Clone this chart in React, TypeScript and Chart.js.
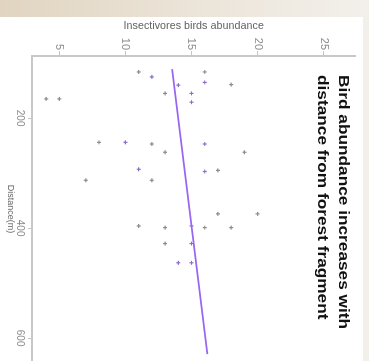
import React, { useEffect, useRef } from "react";
import { Chart, registerables } from "chart.js";

Chart.register(...registerables);

// ---- Text ----
const TITLE_LINES = ["Bird abundance increases with", "distance from forest fragment"];
const X_LABEL = "Distance(m)";
const Y_LABEL = "Insectivores birds abundance";

// ---- Axes ----
const X_TICKS = [200, 400, 600];
const Y_TICKS = [5, 10, 15, 20, 25];
const X_MIN = 87;
const X_MAX = 643;
const Y_MIN = 2.93;
const Y_MAX = 27.4;

// ---- Data (distance in m, abundance) ----
const GRAY_DISTANCE = [165, 165, 116, 116, 139, 155, 244, 247, 262, 262, 295, 313, 313, 374, 374, 396, 399, 399, 399, 428];
const GRAY_ABUNDANCE = [4, 5, 11, 16, 18, 13, 8, 12, 13, 19, 17, 7, 12, 17, 20, 11, 13, 16, 18, 13];

const PURPLE_DISTANCE = [125, 135, 140, 155, 171, 244, 247, 293, 297, 396, 428, 463, 463];
const PURPLE_ABUNDANCE = [12, 16, 14, 15, 15, 10, 16, 11, 16, 15, 15, 14, 15];

const FIT_DISTANCE = [111, 629];
const FIT_ABUNDANCE = [13.53, 16.2];

const toPoints = (xs: number[], ys: number[]) => xs.map((x, i) => ({ x, y: ys[i] }));

const FONT = '"Liberation Sans", Arial, Helvetica, sans-serif';

const titlePlugin = {
  id: "slideTitle",
  afterDraw(chart: any) {
    const ctx = chart.ctx as CanvasRenderingContext2D;
    ctx.save();
    ctx.fillStyle = "#111";
    ctx.font = `bold 14.5px ${FONT}`;
    ctx.textAlign = "left";
    ctx.textBaseline = "alphabetic";
    ctx.translate(58, 0);
    ctx.scale(1.19, 1);
    TITLE_LINES.forEach((t, i) => ctx.fillText(t, 0, 24 + i * 21));
    ctx.restore();
  },
};

export default function App() {
  const ref = useRef<HTMLCanvasElement | null>(null);

  useEffect(() => {
    if (!ref.current) return;
    Chart.defaults.font.family = FONT;
    const chart = new Chart(ref.current, {
      type: "scatter",
      data: {
        datasets: [
          {
            label: "fit",
            data: toPoints(FIT_DISTANCE, FIT_ABUNDANCE),
            showLine: true,
            borderColor: "#9a66f0",
            borderWidth: 1.9,
            pointRadius: 0,
            order: 0,
          } as any,
          {
            label: "gray",
            data: toPoints(GRAY_DISTANCE, GRAY_ABUNDANCE),
            pointStyle: "cross",
            pointRadius: 2,
            pointBorderWidth: 1.2,
            borderColor: "#8c8c8c",
            backgroundColor: "#8c8c8c",
            order: 1,
          },
          {
            label: "purple",
            data: toPoints(PURPLE_DISTANCE, PURPLE_ABUNDANCE),
            pointStyle: "cross",
            pointRadius: 2,
            pointBorderWidth: 1.2,
            borderColor: "#8a6ccc",
            backgroundColor: "#8a6ccc",
            order: 1,
          },
        ],
      },
      options: {
        responsive: false,
        animation: false,
        devicePixelRatio: 1,
        layout: { padding: { top: 3, left: 0, right: 0, bottom: 0 } },
        plugins: { legend: { display: false }, tooltip: { enabled: false } },
        scales: {
          x: {
            type: "linear",
            min: X_MIN,
            max: X_MAX,
            afterBuildTicks: (s: any) => {
              s.ticks = X_TICKS.map((v) => ({ value: v }));
            },
            afterFit: (s: any) => {
              s.height = 32;
            },
            ticks: { color: "#8a8a8a", font: { size: 10 }, padding: 2, maxRotation: 0 },
            grid: { display: true, drawOnChartArea: false, drawTicks: true, tickLength: 4, color: "#c4c4c4" },
            border: { display: true, color: "#c8c8c8", width: 2 },
            title: { display: true, text: X_LABEL, color: "#666", font: { size: 9 }, padding: { top: 0, bottom: 4.6 } },
          },
          y: {
            type: "linear",
            min: Y_MIN,
            max: Y_MAX,
            afterBuildTicks: (s: any) => {
              s.ticks = Y_TICKS.map((v) => ({ value: v }));
            },
            afterFit: (s: any) => {
              s.width = 39;
            },
            ticks: { color: "#8a8a8a", font: { size: 11 }, padding: 1 },
            grid: { display: true, drawOnChartArea: false, drawTicks: true, tickLength: 5, color: "#c4c4c4" },
            border: { display: true, color: "#c8c8c8", width: 2 },
            title: { display: true, text: Y_LABEL, color: "#666", font: { size: 10.8 }, padding: { top: 2.5, bottom: 0 } },
          },
        },
      },
      plugins: [titlePlugin],
    });
    return () => chart.destroy();
  }, []);

  return (
    <div
      style={{
        position: "fixed",
        left: 0,
        top: 0,
        width: 369,
        height: 361,
        overflow: "hidden",
        background: "linear-gradient(90deg, #e1d5c1 0%, #eae2d5 45%, #f3f0eb 100%)",
      }}
    >
      <div
        style={{
          position: "absolute",
          left: 0,
          top: 17,
          width: 363,
          height: 344,
          background: "#ffffff",
          overflow: "hidden",
        }}
      >
        <canvas
          ref={ref}
          width={350}
          height={363}
          style={{
            position: "absolute",
            left: 0,
            top: 0,
            width: 350,
            height: 363,
            transformOrigin: "0 0",
            transform: "translate(363px, 0px) rotate(90deg)",
          }}
        />
      </div>
    </div>
  );
}
